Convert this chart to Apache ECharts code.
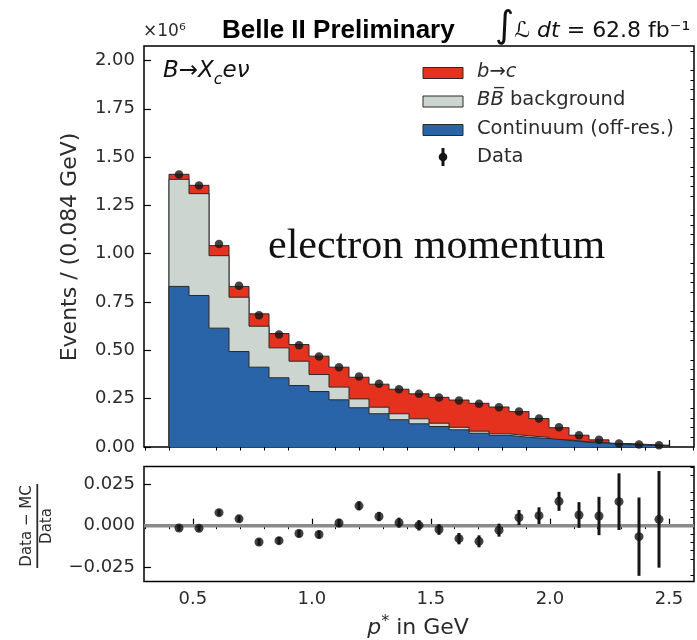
<!DOCTYPE html>
<html>
<head>
<meta charset="utf-8">
<script src="https://cdn.jsdelivr.net/npm/echarts@6/dist/echarts.min.js"></script>
<style>
html, body { margin: 0; padding: 0; background: #fff; }
#chart { width: 697px; height: 640px; }
</style>
</head>
<body>
<div id="chart"></div>
<script>
// bins of p* (GeV), 0.084 GeV wide
const binCenters = [0.442, 0.526, 0.610, 0.694, 0.778, 0.862, 0.946, 1.030, 1.114, 1.198, 1.282, 1.366, 1.450,
  1.534, 1.618, 1.702, 1.786, 1.870, 1.954, 2.038, 2.122, 2.206, 2.290, 2.374, 2.458]
const binWidth = 0.084

// events, x10^6
const dataEvents = [1.410, 1.353, 1.050, 0.834, 0.682, 0.582, 0.527, 0.468, 0.413, 0.365, 0.327, 0.299, 0.275,
  0.256, 0.241, 0.224, 0.206, 0.184, 0.148, 0.102, 0.061, 0.037, 0.018, 0.013, 0.009]
const continuum = [0.831, 0.784, 0.615, 0.494, 0.413, 0.358, 0.318, 0.287, 0.244, 0.203, 0.172, 0.141, 0.120,
  0.106, 0.089, 0.071, 0.060, 0.050, 0.044, 0.034, 0.024, 0.019, 0.013, 0.009, 0.005]
const bbBackground = [0.554, 0.527, 0.375, 0.281, 0.212, 0.155, 0.126, 0.088, 0.066, 0.046, 0.034, 0.031, 0.026,
  0.017, 0.013, 0.011, 0.008, 0.008, 0.006, 0.003, 0.003, 0.002, 0.001, 0.001, 0.001]
const btoc = [0.026, 0.043, 0.052, 0.056, 0.064, 0.074, 0.086, 0.095, 0.103, 0.112, 0.119, 0.127, 0.129,
  0.134, 0.141, 0.144, 0.139, 0.125, 0.097, 0.063, 0.034, 0.016, 0.004, 0.003, 0.003]

// (Data - MC) / Data
const ratio = [-0.0014, -0.0016, 0.0078, 0.0041, -0.0098, -0.0090, -0.0047, -0.0053, 0.0016, 0.0119, 0.0055, 0.0018,
  0.0002, -0.0023, -0.0078, -0.0094, -0.0027, 0.0049, 0.0060, 0.0146, 0.0064, 0.0058, 0.0144, -0.0066, 0.0038]
const ratioErr = [0.0018, 0.0018, 0.0019, 0.0020, 0.0021, 0.0022, 0.0023, 0.0024, 0.0025, 0.0027, 0.0028, 0.0030,
  0.0031, 0.0032, 0.0034, 0.0036, 0.0039, 0.0045, 0.0050, 0.0057, 0.0077, 0.0115, 0.0170, 0.0235, 0.0290]

// ticks
const xMajor = [0.5, 1.0, 1.5, 2.0, 2.5]
const xMinor = [0.3, 0.4, 0.6, 0.7, 0.8, 0.9, 1.1, 1.2, 1.3, 1.4, 1.6, 1.7, 1.8, 1.9, 2.1, 2.2, 2.3, 2.4, 2.6]
const yTopMajor = [0, 0.25, 0.5, 0.75, 1.0, 1.25, 1.5, 1.75, 2.0]
const yTopMinor = [0.05, 0.1, 0.15, 0.2, 0.3, 0.35, 0.4, 0.45, 0.55, 0.6, 0.65, 0.7, 0.8, 0.85, 0.9, 0.95,
  1.05, 1.1, 1.15, 1.2, 1.3, 1.35, 1.4, 1.45, 1.55, 1.6, 1.65, 1.7, 1.8, 1.85, 1.9, 1.95, 2.05]
const yBotMajor = [-0.025, 0, 0.025]
const yBotMinor = [-0.03, -0.02, -0.015, -0.01, -0.005, 0.005, 0.01, 0.015, 0.02, 0.03, 0.035]

const RED = '#e4321f'
const GRAY = '#cdd5d0'
const BLUE = '#2a64a8'
const EDGE = '#2a2a2a'
const TXT = '#2b2b2b'

const chart = echarts.init(document.getElementById('chart'))

const n = binCenters.length
const lastEdge = binCenters[n - 1] + binWidth / 2
// step outline points for a stacked layer top
function stepData (tops) {
  const pts = [[binCenters[0] - binWidth / 2, 0]]
  tops.forEach((v, i) => pts.push([binCenters[i] - binWidth / 2, v]))
  pts.push([lastEdge, tops[n - 1]])
  pts.push([lastEdge, 0])
  return pts
}
const blueTop = continuum.slice()
const grayTop = continuum.map((v, i) => v + bbBackground[i])
const redTop = grayTop.map((v, i) => v + btoc[i])

const font = 'DejaVu Sans'
function majorX (grid, labels) {
  return {
    type: 'value', gridIndex: grid, min: 0.295, max: 2.605,
    axisLine: { show: false }, splitLine: { show: false },
    axisTick: { show: true, inside: true, length: 7, customValues: xMajor, lineStyle: { color: '#000', width: 1.2 } },
    axisLabel: { show: labels, customValues: xMajor, margin: 9, fontFamily: font, fontSize: 18, color: TXT,
      formatter: v => v.toFixed(1) }
  }
}
function minorX (grid) {
  return {
    type: 'value', gridIndex: grid, min: 0.295, max: 2.605,
    axisLine: { show: false }, splitLine: { show: false }, axisLabel: { show: false },
    axisTick: { show: true, inside: true, length: 3.5, customValues: xMinor, lineStyle: { color: '#000', width: 1 } }
  }
}
function yAx (grid, min, max, ticks, minor, fmt) {
  return {
    type: 'value', gridIndex: grid, min: min, max: max,
    axisLine: { show: false }, splitLine: { show: false },
    axisTick: { show: true, inside: true, length: minor ? 3.5 : 7, customValues: ticks,
      lineStyle: { color: '#000', width: minor ? 1 : 1.2 } },
    axisLabel: minor ? { show: false } : { show: true, customValues: ticks, margin: 9, fontFamily: font, fontSize: 18, color: TXT, formatter: fmt }
  }
}

const option = {
  animation: false,
  backgroundColor: '#fff',
  grid: [
    { left: 144, top: 46, width: 550, height: 401, show: true, borderColor: '#000', borderWidth: 1.5 },
    { left: 144, top: 466.5, width: 550, height: 115, show: true, borderColor: '#000', borderWidth: 1.5 }
  ],
  xAxis: [majorX(0, false), minorX(0), majorX(1, true), minorX(1)],
  yAxis: [
    yAx(0, 0, 2.075, yTopMajor, false, v => v.toFixed(2)),
    yAx(0, 0, 2.075, yTopMinor, true),
    yAx(1, -0.0335, 0.0355, yBotMajor, false, v => v.toFixed(3).replace('-', '\u2212')),
    yAx(1, -0.0335, 0.0355, yBotMinor, true)
  ],
  series: [
    {
      name: 'b→c', type: 'line', xAxisIndex: 0, yAxisIndex: 0, step: 'end', showSymbol: false, z: 2,
      data: stepData(redTop), lineStyle: { color: EDGE, width: 1 }, areaStyle: { color: RED, opacity: 1 }
    },
    {
      name: 'BB background', type: 'line', xAxisIndex: 0, yAxisIndex: 0, step: 'end', showSymbol: false, z: 3,
      data: stepData(grayTop), lineStyle: { color: EDGE, width: 1 }, areaStyle: { color: GRAY, opacity: 1 }
    },
    {
      name: 'Continuum (off-res.)', type: 'line', xAxisIndex: 0, yAxisIndex: 0, step: 'end', showSymbol: false, z: 4,
      data: stepData(blueTop), lineStyle: { color: EDGE, width: 1 }, areaStyle: { color: BLUE, opacity: 1 }
    },
    {
      name: 'Data', type: 'scatter', xAxisIndex: 0, yAxisIndex: 0, z: 10,
      symbolSize: 8.5, itemStyle: { color: '#141414' },
      data: binCenters.map((c, i) => [c, dataEvents[i]])
    },
    {
      type: 'line', xAxisIndex: 2, yAxisIndex: 2, showSymbol: false, z: 2,
      data: [[0.295, 0], [2.605, 0]], lineStyle: { color: '#8a8a8a', width: 3.5 }
    },
    {
      type: 'custom', xAxisIndex: 2, yAxisIndex: 2, z: 5,
      encode: { x: 0, y: [1, 2] },
      data: binCenters.map((c, i) => [c, ratio[i] - ratioErr[i], ratio[i] + ratioErr[i]]),
      renderItem: function (params, api) {
        const lo = api.coord([api.value(0), api.value(1)])
        const hi = api.coord([api.value(0), api.value(2)])
        return { type: 'line', shape: { x1: lo[0], y1: lo[1], x2: hi[0], y2: hi[1] }, style: { stroke: '#141414', lineWidth: 3 } }
      }
    },
    {
      type: 'scatter', xAxisIndex: 2, yAxisIndex: 2, z: 6,
      symbolSize: 9, itemStyle: { color: '#141414' },
      data: binCenters.map((c, i) => [c, ratio[i]])
    }
  ],
  graphic: [
    // header
    { type: 'text', left: 143, top: 23, style: { text: '×10⁶', fontFamily: font, fontSize: 17, fill: TXT } },
    { type: 'text', left: 222, top: 18, style: { text: 'Belle II Preliminary', fontFamily: 'Liberation Sans', fontWeight: 'bold', fontSize: 26, fill: '#000' } },
    {
      type: 'text', left: 495, top: 9,
      style: {
        text: '{int|∫}{L|ℒ}{it| dt}{n| = 62.8 fb⁻¹}',
        fontFamily: font, fill: '#111',
        rich: {
          int: { fontSize: 37, fontFamily: font, verticalAlign: 'bottom' },
          L: { fontSize: 22, fontFamily: font, fontStyle: 'italic', verticalAlign: 'bottom', padding: [0, 0, 4, 0] },
          it: { fontSize: 22, fontFamily: font, fontStyle: 'italic', verticalAlign: 'bottom', padding: [0, 0, 4, 0] },
          n: { fontSize: 22, fontFamily: font, verticalAlign: 'bottom', padding: [0, 0, 4, 0] }
        }
      }
    },
    // process label
    {
      type: 'text', left: 163, top: 60,
      style: {
        text: '{i|B}{n|→}{i|X}{s|c}{i|eν}',
        fill: '#111',
        rich: {
          i: { fontSize: 23, fontFamily: font, fontStyle: 'italic', verticalAlign: 'top', lineHeight: 30 },
          n: { fontSize: 23, fontFamily: font, verticalAlign: 'top', lineHeight: 30 },
          s: { fontSize: 16, fontFamily: font, fontStyle: 'italic', verticalAlign: 'top', lineHeight: 30, padding: [12, 0, 0, 0] }
        }
      }
    },
    {
      type: 'text', left: 268, top: 226,
      style: { text: 'electron momentum', fontFamily: 'Liberation Serif', fontSize: 42, fill: '#111' }
    },
    // legend
    { type: 'rect', shape: { x: 423, y: 67.5, width: 40, height: 11 }, style: { fill: RED, stroke: EDGE, lineWidth: 1 } },
    { type: 'rect', shape: { x: 423, y: 96, width: 40, height: 11 }, style: { fill: GRAY, stroke: EDGE, lineWidth: 1 } },
    { type: 'rect', shape: { x: 423, y: 124.5, width: 40, height: 11 }, style: { fill: BLUE, stroke: EDGE, lineWidth: 1 } },
    { type: 'line', shape: { x1: 443, y1: 148, x2: 443, y2: 166 }, style: { stroke: '#141414', lineWidth: 3 } },
    { type: 'circle', shape: { cx: 443, cy: 157, r: 4.3 }, style: { fill: '#141414' } },
    {
      type: 'text', left: 477, top: 62,
      style: { text: '{i|b}→{i|c}', fontFamily: font, fontSize: 19.5, fill: TXT, rich: { i: { fontStyle: 'italic', fontSize: 19.5, fontFamily: font } } }
    },
    {
      type: 'text', left: 477, top: 90,
      style: { text: '{i|BB\u0305} background', fontFamily: font, fontSize: 19.5, fill: TXT, rich: { i: { fontStyle: 'italic', fontSize: 19.5, fontFamily: font } } }
    },
    { type: 'text', left: 477, top: 119, style: { text: 'Continuum (off-res.)', fontFamily: font, fontSize: 19.5, fill: TXT } },
    { type: 'text', left: 477, top: 147, style: { text: 'Data', fontFamily: font, fontSize: 19.5, fill: TXT } },
    // axis titles
    {
      type: 'text', x: 70, y: 247, rotation: Math.PI / 2,
      style: { text: 'Events / (0.084 GeV)', fontFamily: font, fontSize: 22, fill: TXT, align: 'center', verticalAlign: 'middle' }
    },
    {
      type: 'text', x: 27.5, y: 526, rotation: Math.PI / 2,
      style: { text: 'Data − MC', fontFamily: font, fontSize: 15, fill: TXT, align: 'center', verticalAlign: 'middle' }
    },
    { type: 'line', shape: { x1: 37.3, y1: 484, x2: 37.3, y2: 568 }, style: { stroke: TXT, lineWidth: 1.8 } },
    {
      type: 'text', x: 47.5, y: 526, rotation: Math.PI / 2,
      style: { text: 'Data', fontFamily: font, fontSize: 15, fill: TXT, align: 'center', verticalAlign: 'middle' }
    },
    {
      type: 'text', x: 418, y: 628,
      style: {
        text: '{i|p}{s|*}{n| in GeV}', align: 'center', verticalAlign: 'middle', fill: TXT,
        rich: {
          i: { fontSize: 22, fontFamily: font, fontStyle: 'italic' },
          s: { fontSize: 16, fontFamily: font, padding: [0, 0, 12, 0] },
          n: { fontSize: 22, fontFamily: font }
        }
      }
    }
  ]
}
chart.setOption(option)
</script>
</body>
</html>
